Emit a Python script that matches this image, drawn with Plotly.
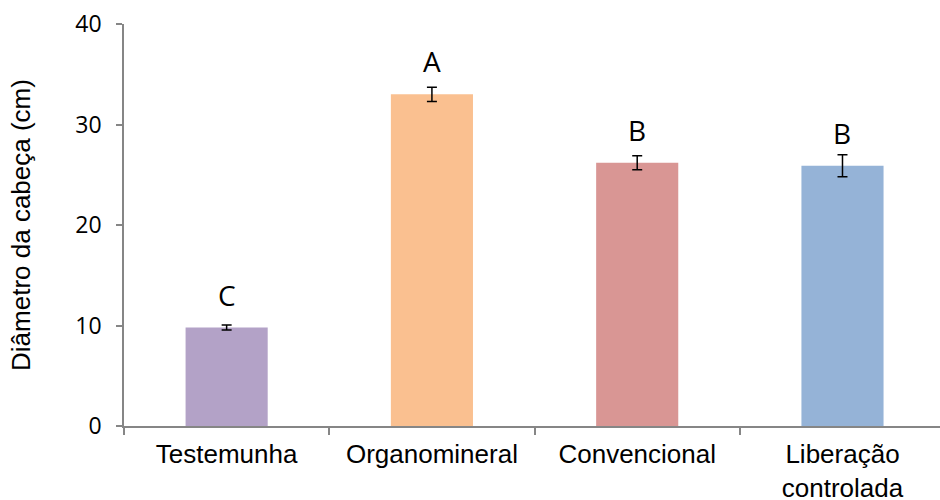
import plotly.graph_objects as go

categories = ["Testemunha", "Organomineral", "Convencional", "Liberação<br>controlada"]
values = [9.8, 33.0, 26.2, 25.9]
errors = [0.25, 0.7, 0.7, 1.1]
letters = ["C", "A", "B", "B"]
colors = ["#B3A2C7", "#FAC090", "#D99694", "#95B3D7"]
y_ticks = [0, 10, 20, 30, 40]

fig = go.Figure()
fig.add_trace(go.Bar(
    x=categories, y=values,
    marker=dict(color=colors, line=dict(width=0)),
    width=0.40,
    error_y=dict(type="data", array=errors, visible=True, color="black", thickness=1.5, width=5),
    showlegend=False,
))

for c, v, t in zip(categories, values, letters):
    fig.add_annotation(x=c, y=v, text=t, showarrow=False, yanchor="bottom", yshift=12,
                       font=dict(family="Open Sans", size=28, color="black"))

axis_color = "#868686"
fig.update_layout(
    width=940, height=500,
    margin=dict(l=124, r=0, t=24, b=74),
    paper_bgcolor="white", plot_bgcolor="white",
    xaxis=dict(
        type="category", range=[-0.5, 3.475], automargin=False,
        showline=True, linecolor=axis_color, linewidth=1.5,
        ticks="outside", tickson="boundaries", ticklen=7, tickcolor=axis_color, tickwidth=1.5,
        tickfont=dict(family="Liberation Sans", size=26, color="black"),
        ticklabelstandoff=4,
        showgrid=False, zeroline=False,
    ),
    yaxis=dict(
        range=[0, 40], tickvals=y_ticks, automargin=False,
        showline=True, linecolor=axis_color, linewidth=1.5,
        ticks="outside", ticklen=6, tickcolor=axis_color, tickwidth=1.5,
        tickfont=dict(family="Open Sans", size=23, color="black"),
        ticklabelstandoff=10,
        showgrid=False, zeroline=False,
        title=dict(text="Diâmetro da cabeça (cm)", font=dict(family="Liberation Sans", size=26, color="black"), standoff=37),
    ),
)

fig.write_html("out.html", config={"displayModeBar": False},
               post_script="document.body.style.margin='0';")
